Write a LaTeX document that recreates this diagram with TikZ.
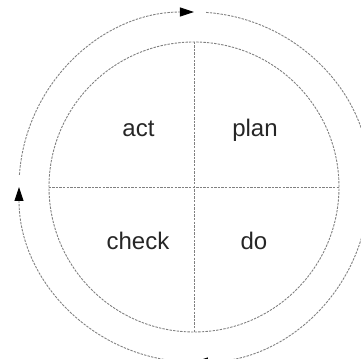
\documentclass[tikz,border=0pt]{standalone}
\usepackage{fontspec}
\setmainfont{Liberation Sans}
\usetikzlibrary{arrows.meta,calc}
\definecolor{ringgray}{HTML}{808080}
\tikzset{
  fine dash/.style={dash pattern=on 1.2pt off 0.6pt},
  ring/.style={draw=ringgray, line width=0.45pt, fine dash,
    -{Triangle[length=7pt,width=4.5pt,color=black]}},
  divider/.style={draw=ringgray, line width=0.45pt, fine dash},
  wheelbox/.style={circle, draw=ringgray, line width=0.45pt, fine dash,
    inner sep=0pt, minimum size=145pt},
  step label/.style={anchor=base, font=\fontsize{12}{14}\selectfont, text=black!85}
}
\begin{document}
\begin{tikzpicture}[x=0.5pt,y=0.5pt]
  \clip (0,0) rectangle (361,359);

  \node[wheelbox] (wheel) at (194,172) {};

  \draw[divider] (wheel.north) -- (wheel.south);
  \draw[divider] (wheel.west) -- (wheel.east);

  \node[step label] (act) at (138.5,222) {act};
  \node[step label] (plan) at (255,222) {plan};
  \node[step label] (check) at (138,109) {check};
  \node[step label] (do) at (254,109) {do};

  \foreach \a in {90,0,-90,-180}
    \draw[ring] ($(wheel.center)+(\a+86:175)$) arc[start angle=\a+86, end angle=\a, radius=175];
\end{tikzpicture}
\end{document}
